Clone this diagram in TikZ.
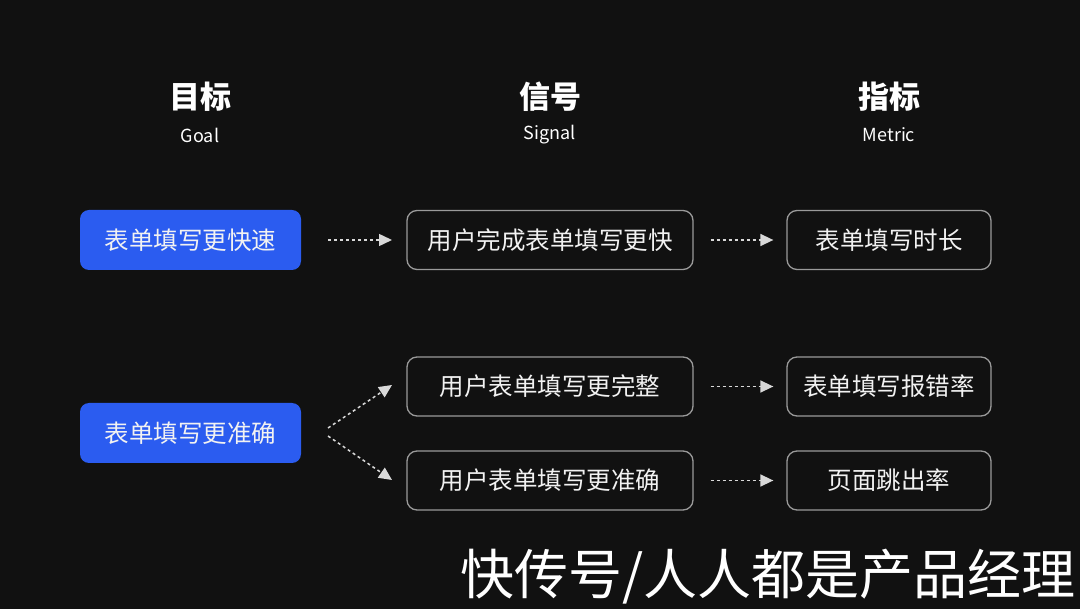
\documentclass[tikz,border=0pt]{standalone}
\usepackage{fontspec}
\setmainfont{Noto Sans CJK SC}
\usetikzlibrary{arrows.meta}
\definecolor{bg}{HTML}{111111}
\definecolor{blu}{HTML}{2B5CF0}
\definecolor{bord}{HTML}{9A9A9A}
\definecolor{txt}{HTML}{F2F2F2}
\tikzset{
  goalbox/.style={fill=blu, rounded corners=9pt, minimum width=221pt, minimum height=60pt, text=txt, font=\fontsize{24.5}{27}\selectfont, inner sep=0pt},
  plainbox/.style={draw=bord, line width=1.3pt, rounded corners=10pt, minimum height=59pt, text=txt, font=\fontsize{24.5}{27}\selectfont, inner sep=0pt},
  head/.style={text=white, font=\fontsize{31}{34}\selectfont\bfseries, inner sep=0pt},
  sub/.style={text=white, font=\fontsize{18}{20}\selectfont, inner sep=0pt},
  conn/.style={draw=white!85!black, line width=1.5pt, dash pattern=on 3pt off 3pt, -{Triangle[length=13pt,width=12pt]}},
}
\begin{document}
\begin{tikzpicture}[x=1pt,y=-1pt]
\fill[bg] (0,0) rectangle (1080,609);
\useasboundingbox (0,0) rectangle (1080,609);
% headers
\node[head] (h1) at (200,97) {目标};
\node[sub] (s1) at (200,135) {Goal};
\node[head] (h2) at (550,97) {信号};
\node[sub] (s2t) at (550,135) {Signal};
\node[head] (h3) at (889,97) {指标};
\node[sub] (s3t) at (889,135) {Metric};
% goal boxes
\node[goalbox] (g1) at (190.5,240) {表单填写更快速};
\node[goalbox] (g2) at (190.5,433) {表单填写更准确};
% signal boxes
\node[plainbox, minimum width=286pt] (sa) at (550,240) {用户完成表单填写更快};
\node[plainbox, minimum width=286pt] (sb) at (550,386.5) {用户表单填写更完整};
\node[plainbox, minimum width=286pt] (sc) at (550,480.5) {用户表单填写更准确};
% metric boxes
\node[plainbox, minimum width=204pt] (ma) at (889,240) {表单填写时长};
\node[plainbox, minimum width=204pt] (mb) at (889,386.5) {表单填写报错率};
\node[plainbox, minimum width=204pt] (mc) at (889,480.5) {页面跳出率};
% connector endpoints
\coordinate (a1s) at (328,240); \coordinate (a1e) at (392,240);
\coordinate (d1s) at (328,428); \coordinate (d1e) at (392,385);
\coordinate (d2s) at (328,436); \coordinate (d2e) at (392,480);
\draw[conn] (a1s) -- (a1e);
\draw[conn] (d1s) -- (d1e);
\draw[conn] (d2s) -- (d2e);
\draw[conn, shorten <=17pt, shorten >=13pt] (sa.east) -- (ma.west);
\draw[conn, shorten <=17pt, shorten >=13pt] (sb.east) -- (mb.west);
\draw[conn, shorten <=17pt, shorten >=13pt] (sc.east) -- (mc.west);
% watermark
\node[text=white, font=\fontsize{54}{58}\selectfont, inner sep=0pt, anchor=east] (wm) at (1076,577) {快传号/人人都是产品经理};
\end{tikzpicture}
\end{document}
